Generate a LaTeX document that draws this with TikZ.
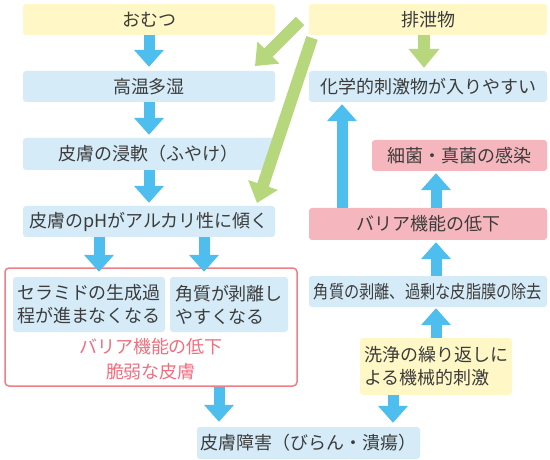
\documentclass[tikz,border=0pt]{standalone}
\usepackage{fontspec}
\setmainfont{Noto Sans CJK JP}
\usetikzlibrary{arrows.meta}

\definecolor{txtgray}{HTML}{3C3C3C}
\definecolor{boxyellow}{HTML}{FFF8C6}
\definecolor{boxblue}{HTML}{D5ECF8}
\definecolor{boxpink}{HTML}{F5B7BD}
\definecolor{arrowblue}{HTML}{4DBEEE}
\definecolor{arrowgreen}{HTML}{B6D77C}
\definecolor{framered}{HTML}{EE7F88}
\definecolor{textred}{HTML}{EF6F80}

\begin{document}
\begin{tikzpicture}[x=1pt, y=-1pt,
    box/.style={rounded corners=3pt, inner sep=0pt, text=txtgray, font=\fontsize{18}{23}\selectfont},
    yellowbox/.style={box, fill=boxyellow},
    bluebox/.style={box, fill=boxblue},
    pinkbox/.style={box, fill=boxpink},
    bluearrow/.style={draw=arrowblue, line width=11pt, -{Triangle[width=29pt,length=17pt]}},
    greenarrow/.style={draw=arrowgreen, line width=12pt, -{Triangle[width=30pt,length=19pt]}}]

    % Fix the size of the picture
    \fill[white] (0,0) rectangle (550,460);
    \useasboundingbox (0,0) rectangle (550,460);

    % Define the points of the green arrows
    \coordinate (G1) at (300,21);
    \coordinate (H1) at (255,66);
    \coordinate (G2) at (312,38);
    \coordinate (H2) at (257,203);

    % Left column
    \node[yellowbox, minimum width=252pt, minimum height=31pt] (diaper) at (149,19.5) {おむつ};
    \node[bluebox, minimum width=252pt, minimum height=31pt] (humid) at (149,86.5) {高温多湿};
    \node[bluebox, minimum width=252pt, minimum height=32pt] (soak) at (149,154) {皮膚の浸軟（ふやけ）};
    \node[bluebox, minimum width=252pt, minimum height=31pt] (alkali) at (149,221.5) {皮膚のpHがアルカリ性に傾く};

    % Fragile skin
    \node[draw=framered, line width=1.5pt, rounded corners=4pt, minimum width=292pt, minimum height=118pt] (fragile) at (151,327) {};
    \node[bluebox, align=left, minimum width=152pt, minimum height=55pt] (ceramide) at (89,304.5) {セラミドの生成過\\程が進まなくなる};
    \node[bluebox, align=left, minimum width=118pt, minimum height=55pt] (horny) at (229,304.5) {角質が剥離し\\やすくなる};
    \node[text=textred, align=center, inner sep=0pt, font=\fontsize{18}{25}\selectfont] (weak) at (151,359.5) {バリア機能の低下\\脆弱な皮膚};

    % Right column
    \node[yellowbox, minimum width=238pt, minimum height=31pt] (excreta) at (428,19.5) {排泄物};
    \node[bluebox, minimum width=238pt, minimum height=31pt] (chem) at (428,86.5) {化学的刺激物が入りやすい};
    \node[pinkbox, minimum width=175pt, minimum height=31pt] (infect) at (459.5,155.5) {細菌・真菌の感染};
    \node[pinkbox, minimum width=238pt, minimum height=32pt] (barrier) at (428,224) {バリア機能の低下};
    \node[bluebox, minimum width=238pt, minimum height=31pt] (peel) at (428,291.5) {\scalebox{0.845}[1]{角質の剥離、過剰な皮脂膜の除去}};
    \node[yellowbox, align=left, minimum width=152pt, minimum height=57pt] (wash) at (436,366.5) {洗浄の繰り返しに\\よる機械的刺激};

    % Skin injury
    \node[bluebox, minimum width=223pt, minimum height=32pt] (injury) at (308.5,443) {皮膚障害（びらん・潰瘍）};

    % Draw the blue arrows
    \draw[bluearrow, shorten >=4pt] (diaper.south) -- (humid.north);
    \draw[bluearrow, shorten >=3pt] (humid.south) -- (soak.north);
    \draw[bluearrow, shorten >=3pt] (soak.south) -- (alkali.north);
    \draw[bluearrow, shorten >=5pt] ([xshift=-50pt]alkali.south) -- ([xshift=-50pt]alkali.south |- ceramide.north);
    \draw[bluearrow, shorten >=5pt] ([xshift=55pt]alkali.south) -- ([xshift=55pt]alkali.south |- horny.north);
    \draw[bluearrow, shorten >=5pt] ([xshift=68pt]fragile.south) -- ([xshift=68pt]fragile.south |- injury.north);
    \draw[bluearrow, shorten >=4pt] ([xshift=-43pt]wash.south) -- ([xshift=-43pt]wash.south |- injury.north);
    \draw[bluearrow, shorten >=1pt] (wash.north) -- (wash.north |- peel.south);
    \draw[bluearrow, shorten >=2pt] (wash.north |- peel.north) -- (wash.north |- barrier.south);
    \draw[bluearrow, shorten >=2pt] (wash.north |- barrier.north) -- (wash.north |- infect.south);
    \draw[bluearrow, shorten >=2pt] ([xshift=-86pt]barrier.north) -- ([xshift=-86pt]barrier.north |- chem.south);

    % Draw the green arrows
    \draw[greenarrow, shorten >=3pt] ([xshift=-4pt]excreta.south) -- ([xshift=-4pt]excreta.south |- chem.north);
    \draw[greenarrow] (G1) -- (H1);
    \draw[greenarrow] (G2) -- (H2);

\end{tikzpicture}
\end{document}
